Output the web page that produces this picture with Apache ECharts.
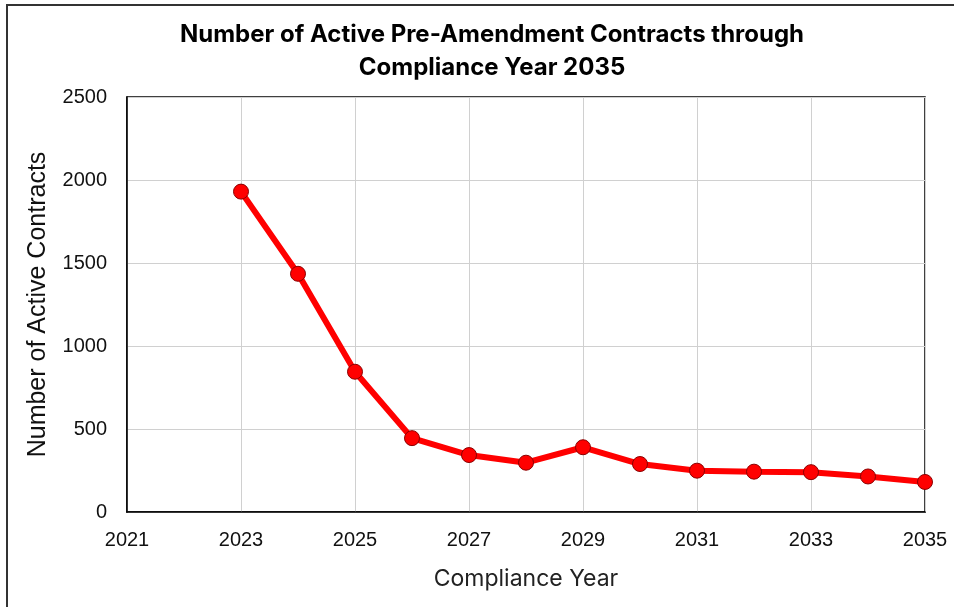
<!DOCTYPE html>
<html>
<head>
<meta charset="utf-8">
<script src="https://cdn.jsdelivr.net/npm/echarts@6/dist/echarts.min.js"></script>
<style>
  html, body { margin: 0; padding: 0; background: #fff; }
  #chart { width: 954px; height: 607px; }
</style>
</head>
<body>
<div id="chart"></div>
<script>
// Compliance years and active pre-amendment contract counts
const years = [2023, 2024, 2025, 2026, 2027, 2028, 2029, 2030, 2031, 2032, 2033, 2034, 2035];
const activeContracts = [1930, 1435, 845, 445, 343, 297, 390, 289, 249, 243, 240, 214, 181];

const chart = echarts.init(document.getElementById('chart'));

const option = {
  backgroundColor: '#fff',
  animation: false,
  title: {
    text: 'Number of Active Pre-Amendment Contracts through\nCompliance Year 2035',
    left: 487,
    top: 13,
    textAlign: 'center',
    textStyle: {
      fontFamily: 'Inter',
      fontWeight: 'bold',
      fontSize: 24,
      lineHeight: 33,
      color: '#000'
    }
  },
  graphic: [
    {
      type: 'polyline',
      shape: { points: [[7, 607], [7, 5], [954, 5]] },
      style: { stroke: '#333', lineWidth: 2, fill: null }
    }
  ],
  grid: { left: 127, right: 29, top: 97, bottom: 95, show: true, borderColor: '#000', borderWidth: 1.5 },
  xAxis: {
    type: 'value',
    min: 2021,
    max: 2035,
    interval: 2,
    name: 'Compliance Year',
    nameLocation: 'middle',
    nameGap: 56,
    nameTextStyle: { fontFamily: 'Inter', fontSize: 23, color: '#222' },
    axisLine: { show: true, lineStyle: { color: '#000', width: 1.5 } },
    axisTick: { show: false },
    axisLabel: {
      margin: 18,
      fontFamily: 'Liberation Sans',
      fontSize: 20,
      color: '#111',
      formatter: v => String(v)
    },
    splitLine: { show: true, lineStyle: { color: '#d0d0d0', width: 1 } }
  },
  yAxis: {
    type: 'value',
    min: 0,
    max: 2500,
    interval: 500,
    name: 'Number of Active Contracts',
    nameLocation: 'middle',
    nameGap: 76,
    nameTextStyle: { fontFamily: 'Liberation Sans', fontSize: 25, color: '#111' },
    axisLine: { show: true, lineStyle: { color: '#000', width: 1.5 } },
    axisTick: { show: false },
    axisLabel: {
      margin: 20,
      fontFamily: 'Liberation Sans',
      fontSize: 20,
      color: '#111',
      formatter: v => String(v)
    },
    splitLine: { show: true, lineStyle: { color: '#d0d0d0', width: 1 } }
  },
  series: [
    {
      type: 'line',
      data: years.map((y, i) => [y, activeContracts[i]]),
      symbol: 'circle',
      symbolSize: 15,
      lineStyle: { color: '#ff0000', width: 6 },
      itemStyle: { color: '#ff0000', borderColor: '#8b0000', borderWidth: 1 },
      clip: false
    }
  ]
};

chart.setOption(option);
</script>
</body>
</html>
